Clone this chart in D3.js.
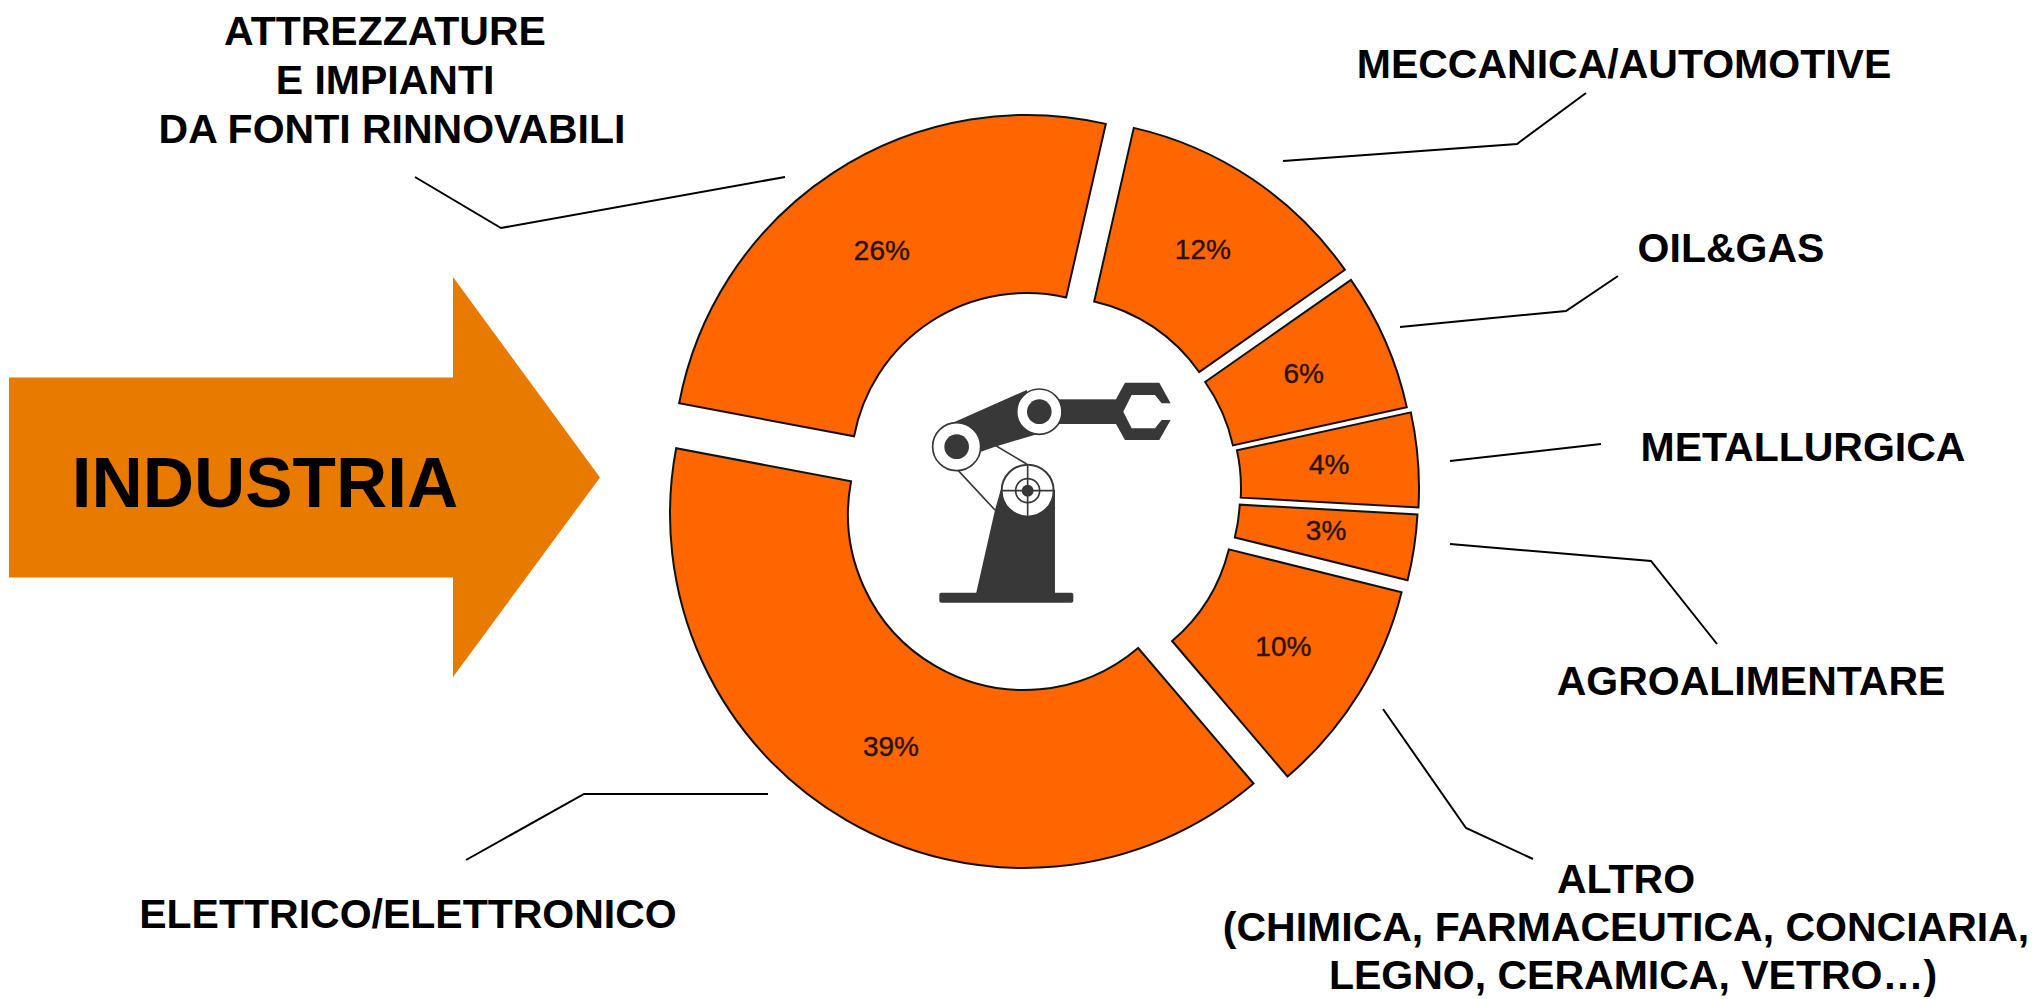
<!DOCTYPE html>
<html>
<head>
<meta charset="utf-8">
<script src="https://cdn.jsdelivr.net/npm/d3@7"></script>
<style>
  html, body { margin: 0; padding: 0; background: #fff; }
  text { font-family: "Liberation Sans", Arial, sans-serif; }
</style>
</head>
<body>
<div id="chart"></div>
<script>
const categories = ['Attrezzature e impianti da fonti rinnovabili', 'Meccanica/Automotive', 'Oil&Gas', 'Metallurgica', 'Agroalimentare', 'Altro', 'Elettrico/Elettronico'];
// read from the slice edges, the printed labels are these rounded
const shares = [25.6, 11.7, 6.3, 4.3, 3.0, 9.9, 39.2];

// callouts, one per category, same order
const calloutText = [
  ['ATTREZZATURE', 'E IMPIANTI', 'DA FONTI RINNOVABILI'],
  ['MECCANICA/AUTOMOTIVE'],
  ['OIL&GAS'],
  ['METALLURGICA'],
  ['AGROALIMENTARE'],
  ['ALTRO', '(CHIMICA, FARMACEUTICA, CONCIARIA,', 'LEGNO, CERAMICA, VETRO…)'],
  ['ELETTRICO/ELETTRONICO']
];
const calloutPos = [
  [[385, 45], [385, 94], [392, 143]],
  [[1624, 78]],
  [[1731, 262]],
  [[1803, 461]],
  [[1751, 695]],
  [[1626, 893], [1626, 941], [1633, 989]],
  [[408, 928]]
];
const leaders = [
  [[415, 177], [501, 228], [785, 177]],
  [[1586, 93], [1517, 144], [1283, 161]],
  [[1618, 276], [1566, 311], [1400, 327]],
  [[1601, 444], [1450, 461]],
  [[1717, 644], [1651, 561], [1450, 544]],
  [[1383, 709], [1466, 828], [1533, 859]],
  [[466, 860], [584, 794], [768, 794]]
];

const width = 2035, height = 999;
const cx = 1042, cy = 490;
const rOuter = 354, rInner = 176;
// how far each slice is pulled out of the ring
const sliceShift = [[-15, -21], [13, -17], [19, -7], [23, -2], [22, 5], [16, 17], [-18, 24]];
// percent labels don't sit exactly on the centroid in the original
const labelNudge = [[0, 3], [0, -4], [0, -3], [0, -3], [0, -4], [0, 0], [0, 3]];
const toRad = Math.PI / 180;

const svg = d3.select('#chart').append('svg')
  .attr('width', width)
  .attr('height', height)
  .style('display', 'block');

// arrow
const arrow = d3.line();
svg.append('path')
  .attr('fill', '#e87a00')
  .attr('d', arrow([[9, 377.5], [453, 377.5], [453, 277], [600, 477.5], [453, 677], [453, 577.5], [9, 577.5]]) + 'Z');
svg.append('text')
  .attr('x', 265)
  .attr('y', 507)
  .attr('text-anchor', 'middle')
  .attr('font-size', 71)
  .attr('font-weight', 'bold')
  .attr('fill', '#000')
  .text('INDUSTRIA');

// donut
const pie = d3.pie().sort(null)
  .startAngle(-79.3 * toRad)
  .endAngle(280.7 * toRad);
const arc = d3.arc().innerRadius(rInner).outerRadius(rOuter);
const fmtPct = d => d3.format('.0f')(d) + '%';

const donut = svg.append('g').attr('transform', `translate(${cx},${cy})`);
const sliceG = donut.selectAll('g.slice').data(pie(shares)).enter().append('g')
  .attr('class', 'slice')
  .attr('transform', (d, i) => `translate(${sliceShift[i]})`);

sliceG.append('path')
  .attr('d', arc)
  .attr('fill', '#ff6600')
  .attr('stroke', '#111')
  .attr('stroke-width', 2);

sliceG.append('text')
  .attr('transform', (d, i) => {
    const c = arc.centroid(d);
    return `translate(${c[0] + labelNudge[i][0]},${c[1] + labelNudge[i][1]})`;
  })
  .attr('text-anchor', 'middle')
  .attr('dy', '0.35em')
  .attr('font-size', 28)
  .attr('fill', '#2a1200')
  .attr('stroke', '#2a1200')
  .attr('stroke-width', 0.4)
  .text(d => fmtPct(d.data));

// leader lines
const leaderLine = d3.line();
svg.selectAll('path.leader').data(leaders).enter().append('path')
  .attr('class', 'leader')
  .attr('fill', 'none')
  .attr('stroke', '#000')
  .attr('stroke-width', 2)
  .attr('d', leaderLine);

// callout text
const labelG = svg.selectAll('text.callout').data(calloutText).enter().append('text')
  .attr('class', 'callout')
  .attr('text-anchor', 'middle')
  .attr('font-size', 41)
  .attr('font-weight', 'bold')
  .attr('fill', '#000');
labelG.selectAll('tspan').data((d, i) => d.map((t, j) => ({ t, at: calloutPos[i][j] }))).enter().append('tspan')
  .attr('x', d => d.at[0])
  .attr('y', d => d.at[1])
  .text(d => d.t);

// robot icon, drawn in its own 1020x900 box
const dark = '#383838';
const robot = svg.append('g').attr('transform', 'translate(880,340) scale(0.3333)');
const poly = pts => d3.line()(pts) + 'Z';

robot.append('rect').attr('x', 178).attr('y', 758).attr('width', 402).attr('height', 30).attr('rx', 6).attr('fill', dark);
robot.append('path').attr('fill', dark)
  .attr('d', poly([[288, 762], [345, 510], [362, 450], [525, 450], [525, 762]]));
robot.append('path').attr('fill', 'none').attr('stroke', dark).attr('stroke-width', 5)
  .attr('d', 'M310,295L440,372M235,392L345,510');
robot.append('path').attr('fill', dark)
  .attr('d', poly([[215, 250], [440, 150], [480, 280], [345, 320], [290, 340]]));
robot.append('rect').attr('x', 530).attr('y', 178).attr('width', 190).attr('height', 74).attr('fill', dark);
robot.append('path').attr('fill', dark)
  .attr('d', poly([[708, 178], [735, 128], [838, 128], [872, 190], [845, 190], [825, 165], [755, 165], [730, 215], [755, 265], [825, 265], [845, 240], [872, 240], [838, 300], [735, 300], [708, 252]]));

[[230, 320, 72], [478, 215, 68]].forEach(c => {
  robot.append('circle').attr('cx', c[0]).attr('cy', c[1]).attr('r', c[2]).attr('fill', '#fff').attr('stroke', dark).attr('stroke-width', 5);
  robot.append('circle').attr('cx', c[0]).attr('cy', c[1]).attr('r', 37).attr('fill', dark);
});

robot.append('circle').attr('cx', 443).attr('cy', 452).attr('r', 78).attr('fill', '#fff').attr('stroke', dark).attr('stroke-width', 6);
robot.append('circle').attr('cx', 443).attr('cy', 452).attr('r', 36).attr('fill', 'none').attr('stroke', dark).attr('stroke-width', 5);
robot.append('circle').attr('cx', 443).attr('cy', 452).attr('r', 18).attr('fill', dark);
robot.append('path').attr('fill', 'none').attr('stroke', dark).attr('stroke-width', 5)
  .attr('d', 'M443,374V530M365,452H521');
</script>
</body>
</html>
